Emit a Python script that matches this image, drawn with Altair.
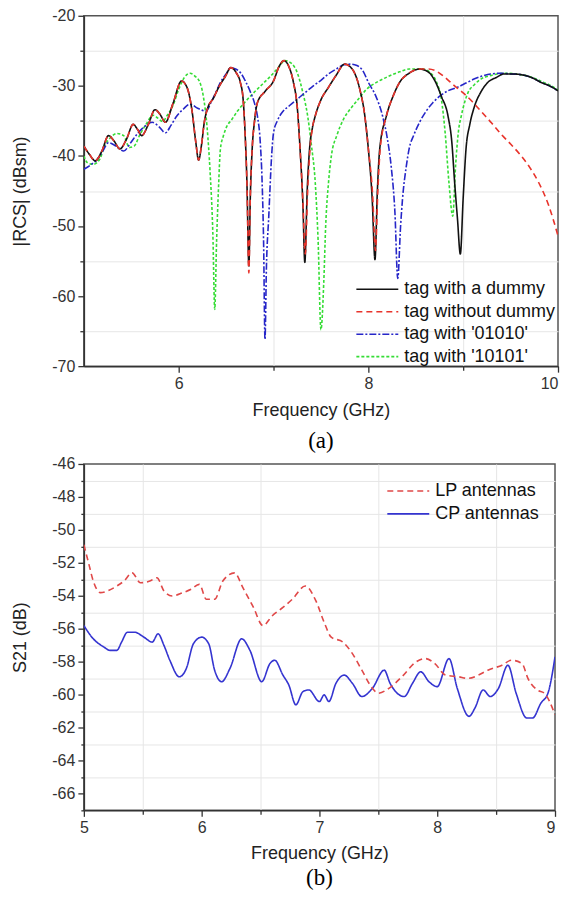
import altair as alt
import pandas as pd

# ---------------- panel (a) data ----------------
dummy_x = [5.0, 5.06, 5.12, 5.19, 5.26, 5.32, 5.38, 5.45, 5.52, 5.57, 5.61, 5.68, 5.75, 5.80, 5.86, 5.94,
           6.03, 6.09, 6.14, 6.18, 6.21, 6.24, 6.27, 6.31, 6.36, 6.43, 6.49, 6.55, 6.61, 6.65, 6.68, 6.70,
           6.72, 6.74, 6.755, 6.775, 6.80, 6.83, 6.91, 7.0, 7.06, 7.11, 7.16, 7.21, 7.25, 7.28, 7.31, 7.33,
           7.355, 7.38, 7.41, 7.44, 7.50, 7.58, 7.66, 7.75, 7.83, 7.91, 7.96, 8.0, 8.04, 8.07, 8.095, 8.12,
           8.19, 8.26, 8.33, 8.43, 8.54, 8.63, 8.71, 8.77, 8.84, 8.88, 8.91, 8.94, 8.97, 9.0, 9.03, 9.07,
           9.12, 9.19, 9.26, 9.35, 9.43, 9.52, 9.61, 9.72, 9.82, 9.91, 10.0]
dummy_y = [-38.6, -39.8, -40.7, -39.3, -37.1, -37.9, -39.0, -37.6, -35.5, -36.3, -37.1, -35.5, -33.4, -34.0, -35.2, -32.5,
           -29.3, -30.3, -33.5, -38.0, -40.6, -38.5, -35.2, -33.0, -31.9, -30.0, -28.7, -27.4, -28.2, -29.5, -32.0, -36.7,
           -44.0, -55.7, -46.0, -39.0, -35.0, -32.4, -30.8, -29.3, -27.2, -26.4, -27.2, -29.5, -33.0, -39.0, -47.0, -55.2,
           -45.0, -39.0, -36.0, -34.3, -32.0, -30.2, -28.5, -26.9, -27.6, -30.5, -34.0, -39.0, -46.0, -54.8, -45.0, -39.0,
           -34.3, -31.5, -29.5, -28.2, -27.6, -28.0, -29.5, -31.5, -34.3, -38.0, -43.8, -49.0, -54.0, -46.0, -39.0, -35.5,
           -32.9, -30.8, -29.5, -28.8, -28.3, -28.3, -28.4, -28.8, -29.5, -30.0, -30.7]

nodummy_x = [5.0, 5.06, 5.12, 5.19, 5.26, 5.32, 5.38, 5.45, 5.52, 5.57, 5.61, 5.68, 5.75, 5.80, 5.86, 5.94,
             6.03, 6.09, 6.14, 6.18, 6.21, 6.24, 6.27, 6.31, 6.36, 6.43, 6.49, 6.55, 6.61, 6.65, 6.68, 6.70,
             6.72, 6.74, 6.755, 6.775, 6.80, 6.83, 6.91, 7.0, 7.06, 7.11, 7.16, 7.21, 7.25, 7.28, 7.31, 7.335,
             7.36, 7.385, 7.41, 7.44, 7.50, 7.58, 7.66, 7.75, 7.83, 7.91, 7.96, 8.0, 8.045, 8.075, 8.10, 8.125,
             8.19, 8.26, 8.33, 8.43, 8.54, 8.63, 8.70, 8.80, 8.90, 9.0, 9.10, 9.20, 9.30, 9.40, 9.50, 9.60,
             9.70, 9.80, 9.90, 10.0]
nodummy_y = [-38.6, -39.8, -40.7, -39.3, -37.1, -37.9, -39.0, -37.6, -35.5, -36.3, -37.1, -35.5, -33.4, -34.0, -35.2, -32.5,
             -29.3, -30.3, -33.5, -38.0, -40.6, -38.5, -35.2, -33.0, -31.9, -30.0, -28.7, -27.4, -28.2, -29.5, -32.0, -36.7,
             -44.0, -56.7, -46.0, -39.0, -35.0, -32.4, -30.8, -29.3, -27.2, -26.4, -27.2, -29.5, -33.0, -39.0, -46.5, -54.0,
             -45.0, -39.0, -36.0, -34.3, -32.0, -30.2, -28.5, -26.9, -27.6, -30.5, -34.0, -39.0, -45.5, -53.5, -45.0, -39.0,
             -34.3, -31.5, -29.5, -28.2, -27.6, -27.6, -27.8, -28.7, -29.9, -31.0, -32.3, -33.8, -35.3, -36.9, -38.3, -39.8,
             -41.6, -43.9, -47.0, -51.4]

c01010_x = [5.0, 5.07, 5.14, 5.20, 5.26, 5.34, 5.42, 5.49, 5.56, 5.64, 5.72, 5.79, 5.86, 5.92, 5.98, 6.05,
            6.12, 6.20, 6.29, 6.34, 6.39, 6.44, 6.50, 6.55, 6.60, 6.65, 6.71, 6.76, 6.80, 6.83, 6.86, 6.88,
            6.895, 6.91, 6.925, 6.95, 6.98, 7.0, 7.04, 7.09, 7.17, 7.25, 7.33, 7.42, 7.50, 7.58, 7.66, 7.74,
            7.81, 7.88, 7.94, 8.0, 8.08, 8.15, 8.20, 8.24, 8.28, 8.31, 8.34, 8.36, 8.40, 8.43, 8.48, 8.54,
            8.61, 8.68, 8.76, 8.84, 8.94, 9.03, 9.12, 9.20, 9.29, 9.40, 9.50, 9.61, 9.72, 9.82, 9.91, 10.0]
c01010_y = [-41.9, -41.3, -40.5, -39.3, -38.1, -38.6, -39.3, -38.2, -36.9, -35.8, -35.2, -35.8, -36.7, -35.6, -34.3, -33.3,
            -32.6, -33.2, -33.6, -32.4, -31.0, -29.5, -28.3, -27.4, -27.6, -28.1, -29.5, -31.0, -32.5, -34.3, -38.0, -43.8,
            -52.0, -66.2, -56.0, -48.6, -40.0, -36.7, -35.0, -33.8, -32.8, -31.9, -31.0, -30.0, -29.2, -28.3, -27.6, -27.0,
            -26.9, -27.1, -27.8, -29.5, -31.5, -34.3, -37.5, -41.4, -48.0, -57.5, -50.0, -46.2, -41.5, -39.0, -37.0, -35.2,
            -33.6, -32.4, -31.4, -30.7, -30.2, -29.6, -29.0, -28.6, -28.3, -28.2, -28.3, -28.4, -28.8, -29.5, -30.0, -30.7]

c10101_x = [5.0, 5.04, 5.10, 5.17, 5.22, 5.28, 5.35, 5.42, 5.48, 5.53, 5.59, 5.66, 5.73, 5.78, 5.83, 5.88,
            5.94, 6.0, 6.06, 6.12, 6.17, 6.22, 6.26, 6.30, 6.33, 6.36, 6.38, 6.40, 6.42, 6.44, 6.47, 6.50,
            6.56, 6.62, 6.70, 6.79, 6.88, 6.97, 7.05, 7.12, 7.19, 7.25, 7.31, 7.36, 7.40, 7.44, 7.47, 7.50,
            7.53, 7.55, 7.58, 7.61, 7.67, 7.74, 7.81, 7.90, 7.98, 8.10, 8.22, 8.33, 8.43, 8.57, 8.66, 8.72,
            8.77, 8.81, 8.85, 8.89, 8.92, 8.95, 8.98, 9.05, 9.12, 9.19, 9.27, 9.36, 9.45, 9.55, 9.65, 9.75,
            9.85, 9.93, 10.0]
c10101_y = [-40.0, -41.0, -41.2, -40.4, -38.5, -37.4, -36.8, -37.1, -38.8, -38.6, -37.0, -35.4, -34.2, -34.6, -35.1, -34.2,
            -32.8, -30.5, -28.8, -28.2, -28.6, -29.4, -31.5, -36.0, -42.0, -51.0, -61.9, -52.0, -44.5, -39.0, -37.2, -36.0,
            -34.8, -33.6, -32.3, -31.0, -29.8, -28.6, -27.4, -26.4, -26.8, -28.1, -31.0, -34.3, -38.5, -43.8, -52.0, -64.8,
            -58.0, -50.0, -43.8, -40.0, -37.0, -34.7, -33.3, -31.8, -30.5, -29.4, -28.6, -28.0, -27.6, -27.6, -28.2, -29.5,
            -31.9, -36.7, -43.8, -48.6, -41.4, -36.5, -34.3, -31.0, -29.8, -29.0, -28.6, -28.3, -28.2, -28.3, -28.5, -28.9,
            -29.5, -30.0, -30.6]

top_names = ["tag with a dummy", "tag without dummy", "tag with '01010'", "tag with '10101'"]
top_colors = ["#111111", "#e8332b", "#2626c8", "#35dc35"]
top_dashes = [[1, 0], [6, 4], [7, 2, 2, 2], [3, 2]]

# ---------------- panel (b) data ----------------
lp_x = [5.0, 5.04, 5.08, 5.14, 5.2, 5.28, 5.34, 5.41, 5.48, 5.56, 5.62, 5.68, 5.75, 5.84, 5.91, 5.98,
        6.04, 6.11, 6.18, 6.28, 6.35, 6.44, 6.52, 6.6, 6.69, 6.77, 6.88, 6.97, 7.04, 7.1, 7.2, 7.28,
        7.36, 7.45, 7.5, 7.59, 7.7, 7.82, 7.9, 7.98, 8.07, 8.18, 8.26, 8.35, 8.43, 8.55, 8.63, 8.72,
        8.77, 8.85, 8.91, 9.0]
lp_y = [-50.9, -52.0, -53.1, -53.8, -53.7, -53.4, -53.1, -52.6, -53.2, -53.1, -52.9, -53.7, -54.0, -53.8, -53.6, -53.3,
        -54.2, -54.2, -53.1, -52.6, -53.5, -54.7, -55.8, -55.2, -54.7, -54.2, -53.4, -54.3, -55.6, -56.5, -56.8, -57.5,
        -58.5, -59.6, -59.9, -59.6, -58.9, -58.0, -57.8, -58.1, -58.8, -58.9, -59.0, -58.8, -58.5, -58.2, -57.9, -58.1,
        -59.0, -59.7, -59.9, -61.2]

cp_x = [5.0, 5.08, 5.17, 5.22, 5.28, 5.32, 5.37, 5.43, 5.51, 5.58, 5.63, 5.68, 5.73, 5.81, 5.87, 5.93,
        6.0, 6.06, 6.11, 6.17, 6.24, 6.34, 6.41, 6.51, 6.58, 6.62, 6.69, 6.74, 6.80, 6.86, 6.91, 7.0,
        7.04, 7.08, 7.14, 7.21, 7.28, 7.36, 7.45, 7.55, 7.60, 7.72, 7.79, 7.86, 7.93, 8.0, 8.10, 8.17,
        8.27, 8.32, 8.39, 8.45, 8.52, 8.60, 8.67, 8.76, 8.81, 8.88, 8.94, 9.0]
cp_y = [-55.8, -56.6, -57.1, -57.3, -57.3, -56.8, -56.2, -56.2, -56.5, -56.8, -56.3, -57.0, -57.9, -58.9, -58.4, -56.9,
        -56.5, -56.9, -58.5, -59.2, -58.4, -56.6, -57.3, -59.2, -58.1, -57.9, -58.8, -59.4, -60.6, -59.8, -59.7, -60.4,
        -60.0, -60.4, -59.3, -58.8, -59.3, -60.1, -59.6, -58.5, -59.3, -60.1, -59.3, -58.6, -59.2, -59.5, -57.8, -59.6,
        -61.3, -60.8, -59.7, -60.1, -59.6, -58.2, -59.9, -61.4, -61.4, -60.5, -59.9, -57.7]

bot_names = ["LP antennas", "CP antennas"]
bot_colors = ["#e04848", "#3434d0"]
bot_dashes = [[6, 4], [1, 0]]

FONT = "Liberation Sans"
TXT = "#333333"

# draw order: green, blue, black, red (red dashes on top of black)
top_df = pd.concat([
    pd.DataFrame({"f": c10101_x, "v": c10101_y, "s": top_names[3]}),
    pd.DataFrame({"f": c01010_x, "v": c01010_y, "s": top_names[2]}),
    pd.DataFrame({"f": dummy_x, "v": dummy_y, "s": top_names[0]}),
    pd.DataFrame({"f": nodummy_x, "v": nodummy_y, "s": top_names[1]}),
], ignore_index=True)

bot_df = pd.concat([
    pd.DataFrame({"f": cp_x, "v": cp_y, "s": bot_names[1]}),
    pd.DataFrame({"f": lp_x, "v": lp_y, "s": bot_names[0]}),
], ignore_index=True)


def cond(test, yes, no):
    return {"condition": {"test": test, "value": yes}, "value": no}


def legend(x, y, rp):
    return alt.Legend(title=None, orient="none", legendX=x, legendY=y, symbolType="M-2.1,0H2.1",
                      symbolSize=400, symbolStrokeWidth=1.6, labelFont=FONT, labelFontSize=18,
                      labelColor="#111", rowPadding=rp, labelOffset=16, padding=0)


top_x_axis = alt.Axis(values=[6, 7, 8, 9, 10], title="Frequency (GHz)",
                      labelExpr="datum.value % 2 == 0 ? toString(datum.value) : ''",
                      labelAlign=cond("datum.value == 10", "right", "center"),
                      tickSize=cond("datum.value % 2 == 0", 6, 4),
                      gridOpacity=cond("datum.value % 2 != 0", 1, 0),
                      labelPadding=3, titlePadding=10)
top_y_axis = alt.Axis(values=list(range(-70, -19, 5)), title="|RCS| (dBsm)",
                      labelExpr="datum.value % 10 == 0 ? toString(datum.value) : ''",
                      tickSize=cond("datum.value % 10 == 0", 6, 4),
                      gridOpacity=cond("datum.value % 10 != 0", 1, 0),
                      labelPadding=3, titlePadding=22)

top = alt.Chart(top_df).mark_line(strokeWidth=1.6, interpolate="monotone", clip=True).encode(
    x=alt.X("f:Q", scale=alt.Scale(domain=[5, 10], nice=False, zero=False), axis=top_x_axis),
    y=alt.Y("v:Q", scale=alt.Scale(domain=[-70, -20], nice=False, zero=False), axis=top_y_axis),
    color=alt.Color("s:N", scale=alt.Scale(domain=top_names, range=top_colors), legend=legend(283, 263, 2.5)),
    strokeDash=alt.StrokeDash("s:N", scale=alt.Scale(domain=top_names, range=top_dashes), legend=legend(283, 263, 2.5)),
).properties(
    width=475, height=351,
    title=alt.TitleParams(text="(a)", orient="bottom", font="Liberation Serif", fontSize=23,
                          fontWeight="normal", color="#000", offset=11, anchor="middle", frame="group"),
)

bot_x_axis = alt.Axis(values=[5, 5.5, 6, 6.5, 7, 7.5, 8, 8.5, 9], title="Frequency (GHz)",
                      labelExpr="datum.value % 1 == 0 ? toString(datum.value) : ''",
                      labelAlign=cond("datum.value == 9", "right", "center"),
                      tickSize=cond("datum.value % 1 == 0", 6, 4),
                      gridOpacity=cond("datum.value % 1 != 0", 1, 0),
                      labelPadding=3, titlePadding=9)
bot_y_axis = alt.Axis(values=list(range(-67, -45)), title="S21 (dB)",
                      labelExpr="datum.value % 2 == 0 ? toString(datum.value) : ''",
                      tickSize=cond("datum.value % 2 == 0", 6, 3),
                      gridOpacity=cond("datum.value % 2 != 0", 1, 0),
                      labelPadding=3, titlePadding=22)

bot = alt.Chart(bot_df).mark_line(strokeWidth=1.6, interpolate="monotone", clip=True).encode(
    x=alt.X("f:Q", scale=alt.Scale(domain=[5, 9], nice=False, zero=False), axis=bot_x_axis),
    y=alt.Y("v:Q", scale=alt.Scale(domain=[-67, -46], nice=False, zero=False), axis=bot_y_axis),
    color=alt.Color("s:N", scale=alt.Scale(domain=bot_names, range=bot_colors), legend=legend(314, 16, 3)),
    strokeDash=alt.StrokeDash("s:N", scale=alt.Scale(domain=bot_names, range=bot_dashes), legend=legend(314, 16, 3)),
).properties(
    width=472, height=347,
    title=alt.TitleParams(text="(b)", orient="bottom", font="Liberation Serif", fontSize=23,
                          fontWeight="normal", color="#000", offset=5, anchor="middle", frame="group"),
)

chart = alt.vconcat(top, bot, spacing=1).resolve_scale(
    color="independent", strokeDash="independent", x="independent", y="independent"
).properties(
    padding={"left": 3, "top": -2, "right": 0, "bottom": 0}
).configure_view(
    stroke="#555555", strokeWidth=1.5
).configure_axis(
    labelFont=FONT, labelFontSize=16, labelColor=TXT,
    titleFont=FONT, titleFontSize=18, titleFontWeight="normal", titleColor="#222",
    domainColor="#333333", domainWidth=1.5, tickColor="#333333", tickWidth=1.3,
    gridColor="#e6e6e6", gridWidth=1, labelFlush=False,
).configure_legend(
    labelFont=FONT
)

chart.save("out.html", embed_options={"renderer": "svg", "actions": False})
